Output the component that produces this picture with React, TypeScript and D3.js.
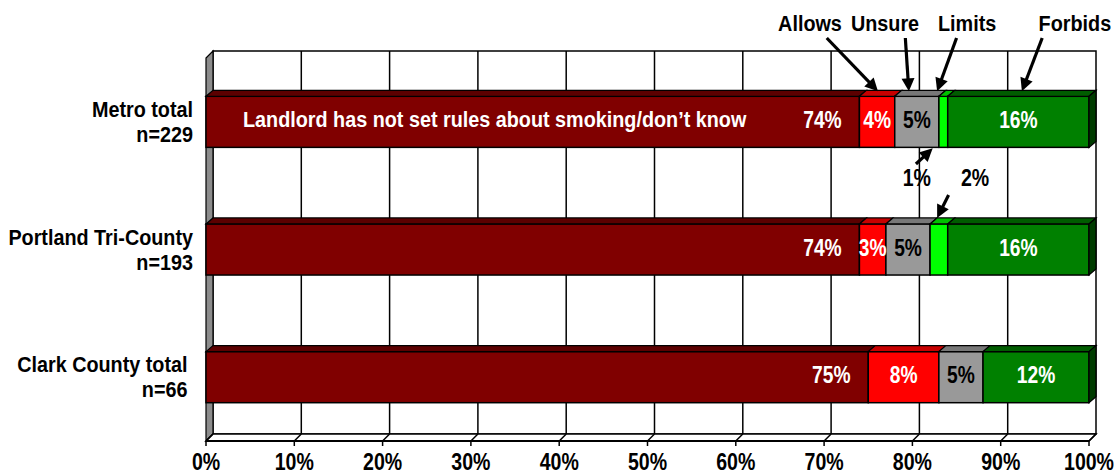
import React from "react";
import * as d3 from "d3";

const categories = ["Metro total", "Portland Tri-County", "Clark County total "];
const sampleSizes = ["n=229", "n=193", "n=66 "];
const seriesNames = ["Not set", "Allows", "Unsure", "Limits", "Forbids"];
const notSetValues = [74, 74, 75];
const allowsValues = [4, 3, 8];
const unsureValues = [5, 5, 5];
const limitsValues = [1, 2, 0];
const forbidsValues = [16, 16, 12];
const xTicks = [0, 10, 20, 30, 40, 50, 60, 70, 80, 90, 100];
const notSetCaption = "Landlord has not set rules about smoking/don’t know";

// callouts: label text, text x (in %), arrow start (%), arrow tip (%)
const topCallouts = [
  { text: "Allows", tx: 68.4, sx: 70.3, ex: 76.1 },
  { text: "Unsure", tx: 76.9, sx: 79.2, ex: 79.6 },
  { text: "Limits", tx: 86.2, sx: 85.0, ex: 82.8 },
  { text: "Forbids", tx: 98.4, sx: 94.7, ex: 92.4 },
];

const fronts = ["#800000", "#FF0000", "#999999", "#00FF00", "#008000"];
const tops = ["#5c0000", "#c80000", "#787878", "#00c000", "#005c00"];
const sides = ["#400000", "#900000", "#606060", "#009000", "#003c00"];
const labelColors = ["#fff", "#fff", "#000", "#000", "#fff"];

const W = 1116;
const H = 474;
const DX = 7;
const DY = 7;
const FONT = "'Liberation Sans', Arial, sans-serif";

function Txt({ x, y, anchor = "middle", size = 22, sx = 0.9, fill = "#000", children }: any) {
  return (
    <text
      transform={`translate(${x},${y}) scale(${sx},1)`}
      textAnchor={anchor}
      fontSize={size}
      fontWeight="bold"
      fontFamily={FONT}
      fill={fill}
      style={{ whiteSpace: "pre" }}
    >
      {children}
    </text>
  );
}

function Arrow({ x1, y1, x2, y2 }: any) {
  const len = Math.hypot(x2 - x1, y2 - y1);
  const ux = (x2 - x1) / len;
  const uy = (y2 - y1) / len;
  const hl = 13;
  const hw = 6.5;
  const bx = x2 - ux * hl;
  const by = y2 - uy * hl;
  const pts = [
    [x2, y2],
    [bx - uy * hw, by + ux * hw],
    [bx + uy * hw, by - ux * hw],
  ];
  return (
    <g>
      <line x1={x1} y1={y1} x2={bx + ux * 2} y2={by + uy * 2} stroke="#000" strokeWidth={3.2} />
      <polygon points={pts.map((p) => p.join(",")).join(" ")} fill="#000" />
    </g>
  );
}

export default function App() {
  const x = d3.scaleLinear().domain([0, 100]).range([206, 1089]);
  const y = d3.scaleBand<string>().domain(categories).range([58, 441]).paddingInner(0.6).paddingOuter(0.3);
  const bw = y.bandwidth();
  const series = [notSetValues, allowsValues, unsureValues, limitsValues, forbidsValues];
  const stack = categories.map((c, i) => {
    let acc = 0;
    return series.map((s, k) => {
      const start = acc;
      acc += s[i];
      return { k, start, end: acc, v: s[i] };
    });
  });

  const top = 58;
  const bottom = 441;
  const x0 = x(0);
  const x1 = x(100);

  return (
    <svg width={W} height={H} style={{ position: "absolute", left: 0, top: 0, background: "#fff" }}>
      {/* back wall */}
      <rect x={x0 + DX} y={top - DY} width={x1 - x0} height={bottom - top} fill="#fff" stroke="#000" strokeWidth={1.5} />
      {/* left wall */}
      <polygon
        points={`${x0},${top} ${x0 + DX},${top - DY} ${x0 + DX},${bottom - DY} ${x0},${bottom}`}
        fill="#8c8c8c"
        stroke="#000"
        strokeWidth={1.2}
      />
      {/* floor */}
      <polygon
        points={`${x0},${bottom} ${x0 + DX},${bottom - DY} ${x1 + DX},${bottom - DY} ${x1},${bottom}`}
        fill="#fff"
        stroke="#000"
        strokeWidth={1.5}
      />
      {/* gridlines */}
      {xTicks.map((t) => (
        <g key={t}>
          {t > 0 && t < 100 && (
            <line x1={x(t) + DX} x2={x(t) + DX} y1={top - DY} y2={bottom - DY} stroke="#000" strokeWidth={1.5} />
          )}
          <line x1={x(t)} y1={bottom} x2={x(t) + DX} y2={bottom - DY} stroke="#000" strokeWidth={1.5} />
          <line x1={x(t)} x2={x(t)} y1={bottom} y2={bottom + 5} stroke="#000" strokeWidth={1.5} />
          <Txt x={x(t)} y={470} size={23} sx={0.85}>{`${t}%`}</Txt>
        </g>
      ))}
      <line x1={x0} x2={x1} y1={bottom} y2={bottom} stroke="#000" strokeWidth={2} />

      {/* bars */}
      {categories.map((c, i) => {
        const by = y(c)!;
        const segs = stack[i].filter((s) => s.v > 0);
        const last = segs[segs.length - 1];
        return (
          <g key={c}>
            {segs.map((s) => {
              const xa = x(s.start);
              const xb = x(s.end);
              return (
                <g key={s.k}>
                  <rect x={xa} y={by} width={xb - xa} height={bw} fill={fronts[s.k]} stroke="#000" strokeWidth={1.5} />
                  <polygon
                    points={`${xa},${by} ${xa + DX},${by - DY + 1} ${xb + DX},${by - DY + 1} ${xb},${by}`}
                    fill={tops[s.k]}
                    stroke="#000"
                    strokeWidth={1.2}
                  />
                </g>
              );
            })}
            <polygon
              points={`${x(last.end)},${by} ${x(last.end) + DX},${by - DY + 1} ${x(last.end) + DX},${by + bw - DY + 1} ${x(last.end)},${by + bw}`}
              fill={sides[last.k]}
              stroke="#000"
              strokeWidth={1.2}
            />
            {segs.map((s) => {
              if (s.v < 3) return null;
              const cx = s.k === 0 ? x(s.end) - 37 : (x(s.start) + x(s.end)) / 2;
              return (
                <Txt key={"l" + s.k} x={cx} y={by + bw / 2 + 6} size={24} sx={0.8} fill={labelColors[s.k]}>
                  {`${s.v}%`}
                </Txt>
              );
            })}
            <Txt x={193} y={by + bw / 2 - 5} anchor="end">{c}</Txt>
            <Txt x={193} y={by + bw / 2 + 20} anchor="end">{sampleSizes[i]}</Txt>
          </g>
        );
      })}

      <Txt x={x(0) + 37} y={y(categories[0])! + bw / 2 + 5} anchor="start" fill="#fff">
        {notSetCaption}
      </Txt>

      {/* top callouts */}
      {topCallouts.map((cl) => (
        <g key={cl.text}>
          <Txt x={x(cl.tx)} y={31}>{cl.text}</Txt>
          <Arrow x1={x(cl.sx)} y1={38} x2={x(cl.ex)} y2={y(categories[0])! - DY + 2} />
        </g>
      ))}

      {/* small-value callouts for Limits */}
      <Txt x={x(80.5)} y={186} size={23} sx={0.85}>{`${limitsValues[0]}%`}</Txt>
      <Arrow x1={x(80.4)} y1={164} x2={x(82.3)} y2={y(categories[0])! + bw + 1} />
      <Txt x={x(87.1)} y={186} size={23} sx={0.85}>{`${limitsValues[1]}%`}</Txt>
      <Arrow x1={x(84.1)} y1={195} x2={x(82.8)} y2={y(categories[1])! - DY + 1} />
    </svg>
  );
}
